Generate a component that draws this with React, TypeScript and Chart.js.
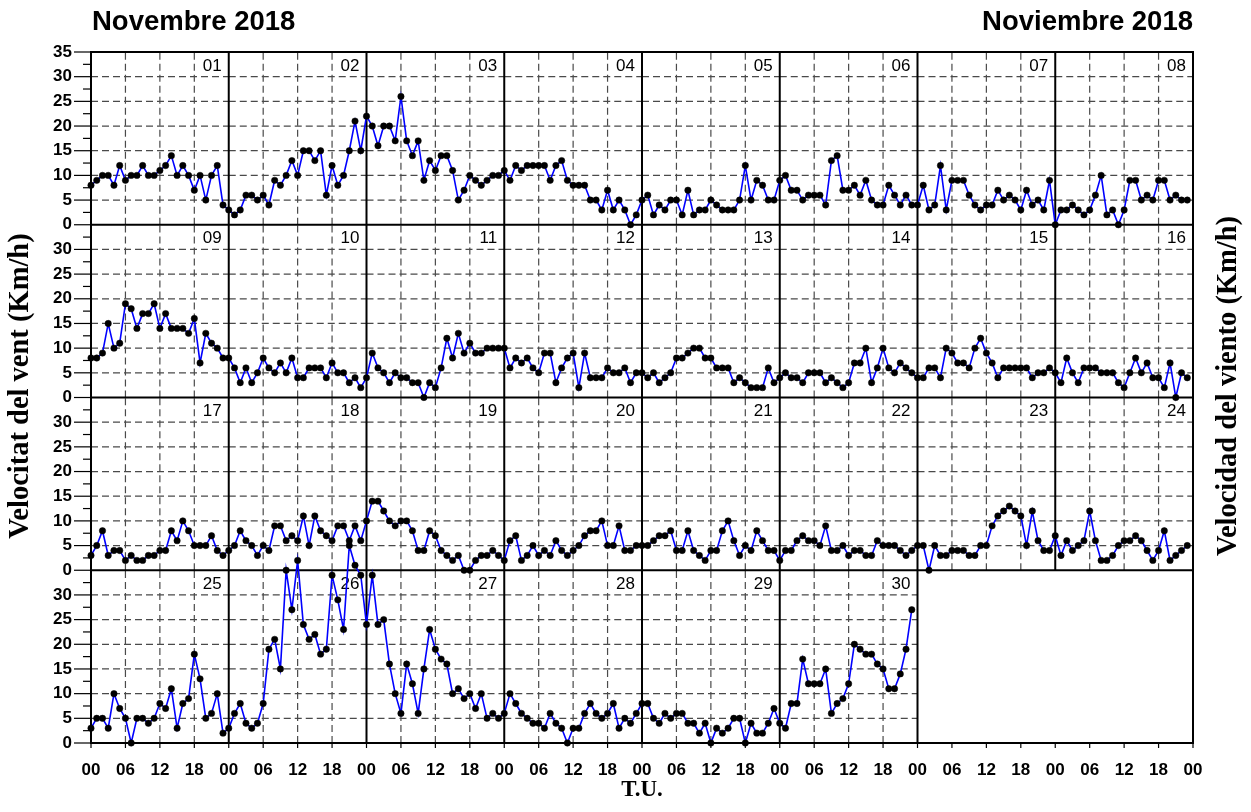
import React, { useEffect, useRef } from 'react';
import { Chart, registerables } from 'chart.js';

Chart.register(...registerables);

// ---- Data: hourly wind speed (km/h), November 2018, 00..23 UT per day ----
const d01 = [8, 9, 10, 10, 8, 12, 9, 10, 10, 12, 10, 10, 11, 12, 14, 10, 12, 10, 7, 10, 5, 10, 12, 4];
const d02 = [3, 2, 3, 6, 6, 5, 6, 4, 9, 8, 10, 13, 10, 15, 15, 13, 15, 6, 12, 8, 10, 15, 21, 15];
const d03 = [22, 20, 16, 20, 20, 17, 26, 17, 14, 17, 9, 13, 11, 14, 14, 11, 5, 7, 10, 9, 8, 9, 10, 10];
const d04 = [11, 9, 12, 11, 12, 12, 12, 12, 9, 12, 13, 9, 8, 8, 8, 5, 5, 3, 7, 3, 5, 3, 0, 2];
const d05 = [5, 6, 2, 4, 3, 5, 5, 2, 7, 2, 3, 3, 5, 4, 3, 3, 3, 5, 12, 5, 9, 8, 5, 5];
const d06 = [9, 10, 7, 7, 5, 6, 6, 6, 4, 13, 14, 7, 7, 8, 6, 9, 5, 4, 4, 8, 6, 4, 6, 4];
const d07 = [4, 8, 3, 4, 12, 3, 9, 9, 9, 6, 4, 3, 4, 4, 7, 5, 6, 5, 3, 7, 4, 5, 3, 9];
const d08 = [0, 3, 3, 4, 3, 2, 3, 6, 10, 2, 3, 0, 3, 9, 9, 5, 6, 5, 9, 9, 5, 6, 5, 5];
const d09 = [8, 8, 9, 15, 10, 11, 19, 18, 14, 17, 17, 19, 14, 17, 14, 14, 14, 13, 16, 7, 13, 11, 10, 8];
const d10 = [8, 6, 3, 6, 3, 5, 8, 6, 5, 7, 5, 8, 4, 4, 6, 6, 6, 4, 7, 5, 5, 3, 4, 2];
const d11 = [4, 9, 6, 5, 3, 5, 4, 4, 3, 3, 0, 3, 2, 6, 12, 8, 13, 9, 11, 9, 9, 10, 10, 10];
const d12 = [10, 6, 8, 7, 8, 6, 5, 9, 9, 3, 6, 8, 9, 2, 9, 4, 4, 4, 6, 5, 5, 6, 3, 5];
const d13 = [5, 4, 5, 3, 4, 5, 8, 8, 9, 10, 10, 8, 8, 6, 6, 6, 3, 4, 3, 2, 2, 2, 6, 3];
const d14 = [4, 5, 4, 4, 3, 5, 5, 5, 3, 4, 3, 2, 3, 7, 7, 10, 3, 6, 10, 6, 5, 7, 6, 5];
const d15 = [4, 4, 6, 6, 4, 10, 9, 7, 7, 6, 10, 12, 9, 7, 4, 6, 6, 6, 6, 6, 4, 5, 5, 6];
const d16 = [5, 3, 8, 5, 3, 6, 6, 6, 5, 5, 5, 3, 2, 5, 8, 5, 7, 4, 4, 2, 7, 0, 5, 4];
const d17 = [3, 5, 8, 3, 4, 4, 2, 3, 2, 2, 3, 3, 4, 4, 8, 6, 10, 8, 5, 5, 5, 7, 4, 3];
const d18 = [4, 5, 8, 6, 5, 3, 5, 4, 9, 9, 6, 7, 6, 11, 5, 11, 8, 7, 6, 9, 9, 6, 9, 6];
const d19 = [10, 14, 14, 12, 10, 9, 10, 10, 8, 4, 4, 8, 7, 4, 3, 2, 3, 0, 0, 2, 3, 3, 4, 3];
const d20 = [2, 6, 7, 2, 3, 5, 3, 4, 3, 6, 4, 3, 4, 5, 7, 8, 8, 10, 5, 5, 9, 4, 4, 5];
const d21 = [5, 5, 6, 7, 7, 8, 4, 4, 8, 4, 3, 2, 4, 4, 8, 10, 6, 3, 5, 4, 8, 6, 4, 4];
const d22 = [2, 4, 4, 6, 7, 6, 6, 5, 9, 4, 4, 5, 3, 4, 4, 3, 3, 6, 5, 5, 5, 4, 3, 4];
const d23 = [5, 5, 0, 5, 3, 3, 4, 4, 4, 3, 3, 5, 5, 9, 11, 12, 13, 12, 11, 5, 12, 6, 4, 4];
const d24 = [7, 3, 6, 4, 5, 6, 12, 6, 2, 2, 3, 5, 6, 6, 7, 6, 4, 2, 4, 8, 2, 3, 4, 5];
const d25 = [3, 5, 5, 3, 10, 7, 5, 0, 5, 5, 4, 5, 8, 7, 11, 3, 8, 9, 18, 13, 5, 6, 10, 2];
const d26 = [3, 6, 8, 4, 3, 4, 8, 19, 21, 15, 35, 27, 37, 24, 21, 22, 18, 19, 34, 29, 23, 40, 36, 34];
const d27 = [24, 34, 24, 25, 16, 10, 6, 16, 12, 6, 15, 23, 19, 17, 16, 10, 11, 9, 10, 7, 10, 5, 6, 5];
const d28 = [6, 10, 8, 6, 5, 4, 4, 3, 6, 4, 3, 0, 3, 3, 6, 8, 6, 5, 6, 8, 3, 5, 4, 6];
const d29 = [8, 8, 5, 4, 6, 5, 6, 6, 4, 4, 2, 4, 0, 3, 2, 3, 5, 5, 0, 4, 2, 2, 4, 7];
const d30 = [4, 3, 8, 8, 17, 12, 12, 12, 15, 6, 8, 9, 12, 20, 19, 18, 18, 16, 15, 11, 11, 14, 19, 27];

const days = [
  d01, d02, d03, d04, d05, d06, d07, d08, d09, d10,
  d11, d12, d13, d14, d15, d16, d17, d18, d19, d20,
  d21, d22, d23, d24, d25, d26, d27, d28, d29, d30,
];
const dayLabels = days.map((_, i) => String(i + 1).padStart(2, '0'));
const hourTickLabels = ['00', '06', '12', '18'];
const yTickValues = [0, 5, 10, 15, 20, 25, 30, 35];

const titleCa = 'Novembre 2018';
const titleEs = 'Noviembre 2018';
const yTitleCa = 'Velocitat del vent (Km/h)';
const yTitleEs = 'Velocidad del viento (Km/h)';
const xTitle = 'T.U.';

// ---- Panel structure ----
const ROWS = 4;
const COLS = 8;
const HOURS = 24;
const SPAN = 35; // km/h range of one row

const rowPoints = Array.from({ length: ROWS }, (_, r) => {
  const pts: { x: number; y: number }[] = [];
  for (let c = 0; c < COLS; c++) {
    const di = r * COLS + c;
    if (di >= days.length) break;
    days[di].forEach((v, h) => pts.push({ x: c * HOURS + h, y: v + (ROWS - 1 - r) * SPAN }));
  }
  return pts;
});

const SANS = "'Liberation Sans', Arial, sans-serif";
const SERIF = "'Liberation Serif', 'Times New Roman', serif";

const panelPlugin = {
  id: 'panelGrid',
  beforeDatasetsDraw(chart: any) {
    const { ctx, scales } = chart;
    const xs = scales.x;
    const ys = scales.y;
    const X = (v: number) => xs.getPixelForValue(v);
    const Y = (v: number) => ys.getPixelForValue(v);
    const line = (x1: number, y1: number, x2: number, y2: number) => {
      ctx.beginPath();
      ctx.moveTo(x1, y1);
      ctx.lineTo(x2, y2);
      ctx.stroke();
    };
    ctx.save();
    // dashed grid inside each day panel
    ctx.strokeStyle = '#4a4a4a';
    ctx.lineWidth = 1.2;
    ctx.setLineDash([7, 4]);
    for (let r = 0; r < ROWS; r++) {
      for (let c = 0; c < COLS; c++) {
        const di = r * COLS + c;
        if (di >= days.length) continue;
        const x0 = c * HOURS;
        const y0 = (ROWS - 1 - r) * SPAN;
        for (let k = 5; k < SPAN; k += 5) line(X(x0), Y(y0 + k), X(x0 + HOURS), Y(y0 + k));
        for (let h = 6; h < HOURS; h += 6) line(X(x0 + h), Y(y0), X(x0 + h), Y(y0 + SPAN));
      }
    }
    ctx.setLineDash([]);
    // solid separators
    ctx.strokeStyle = '#000';
    ctx.lineWidth = 2;
    for (let r = 1; r < ROWS; r++) line(X(0), Y(r * SPAN), X(COLS * HOURS), Y(r * SPAN));
    const lastCol = (days.length - 1) % COLS; // last used column in bottom row
    for (let c = 1; c < COLS; c++) {
      const bottom = c > lastCol + 1 ? SPAN : 0;
      line(X(c * HOURS), Y(bottom), X(c * HOURS), Y(ROWS * SPAN));
    }
    ctx.strokeRect(X(0), Y(ROWS * SPAN), X(COLS * HOURS) - X(0), Y(0) - Y(ROWS * SPAN));
    // y-axis tick marks
    ctx.lineWidth = 1.2;
    for (let v = 0; v <= ROWS * SPAN; v += 2.5) {
      const len = v % 5 === 0 ? 17 : 8;
      line(X(0) - len, Y(v), X(0), Y(v));
    }
    // x-axis tick marks
    for (let v = 0; v <= COLS * HOURS; v += 6) line(X(v), Y(0), X(v), Y(0) + 5);
    // day numbers
    ctx.fillStyle = '#000';
    ctx.font = `17px ${SANS}`;
    ctx.textAlign = 'right';
    ctx.textBaseline = 'middle';
    dayLabels.forEach((lab, di) => {
      const r = Math.floor(di / COLS);
      const c = di % COLS;
      ctx.fillText(lab, X((c + 1) * HOURS) - 7, Y((ROWS - r) * SPAN) + 14);
    });
    ctx.restore();
  },
  afterDraw(chart: any) {
    const { ctx, chartArea } = chart;
    ctx.save();
    ctx.fillStyle = '#000';
    ctx.font = `bold 27.5px ${SANS}`;
    ctx.textBaseline = 'alphabetic';
    ctx.textAlign = 'left';
    ctx.fillText(titleCa, chartArea.left + 1, 30);
    ctx.textAlign = 'right';
    ctx.fillText(titleEs, chartArea.right, 30);
    ctx.font = `bold 28.5px ${SERIF}`;
    ctx.textAlign = 'center';
    ctx.textBaseline = 'middle';
    const cy = 386;
    ctx.save();
    ctx.translate(21, cy);
    ctx.rotate(-Math.PI / 2);
    ctx.fillText(yTitleCa, 0, 0);
    ctx.restore();
    ctx.save();
    ctx.translate(1229, cy);
    ctx.rotate(-Math.PI / 2);
    ctx.fillText(yTitleEs, 0, 0);
    ctx.restore();
    ctx.font = `bold 23px ${SERIF}`;
    ctx.fillText(xTitle, (chartArea.left + chartArea.right) / 2, 790);
    ctx.restore();
  },
};

export default function App() {
  const canvasRef = useRef<HTMLCanvasElement | null>(null);

  useEffect(() => {
    const canvas = canvasRef.current;
    if (!canvas) return;
    const chart = new Chart(canvas, {
      type: 'line',
      data: {
        datasets: rowPoints.map((pts, r) => ({
          label: `row ${r + 1}`,
          data: pts,
          borderColor: '#0000ff',
          borderWidth: 1.6,
          pointRadius: 3.2,
          pointBackgroundColor: '#000',
          pointBorderColor: '#000',
          pointBorderWidth: 0.5,
          tension: 0,
          fill: false,
          clip: false,
        })),
      },
      options: {
        animation: false,
        responsive: false,
        maintainAspectRatio: false,
        events: [],
        layout: { padding: { top: 52, right: 58, left: 0, bottom: 0 } },
        plugins: { legend: { display: false }, tooltip: { enabled: false }, title: { display: false } },
        scales: {
          x: {
            type: 'linear',
            min: 0,
            max: COLS * HOURS,
            afterFit: (s: any) => { s.height = 69; },
            grid: { display: false },
            border: { display: false },
            ticks: {
              stepSize: 6,
              autoSkip: false,
              maxRotation: 0,
              padding: 9,
              color: '#000',
              font: { family: SANS, size: 17, weight: 'bold' },
              callback: (v: any) => hourTickLabels[(Number(v) % HOURS) / 6],
            },
          },
          y: {
            type: 'linear',
            min: 0,
            max: ROWS * SPAN,
            afterFit: (s: any) => { s.width = 91; },
            grid: { display: false },
            border: { display: false },
            ticks: {
              stepSize: 2.5,
              autoSkip: false,
              padding: 11,
              color: '#000',
              font: { family: SANS, size: 17, weight: 'bold' },
              callback: (v: any) => {
                const n = Number(v);
                if (n % 5 !== 0) return '';
                const val = n === ROWS * SPAN ? SPAN : n % SPAN;
                return yTickValues.includes(val) ? String(val) : '';
              },
            },
          },
        },
      },
      plugins: [panelPlugin],
    } as any);
    return () => chart.destroy();
  }, []);

  return (
    <div style={{ position: 'absolute', left: 0, top: 0, width: 1251, height: 812, background: '#fff' }}>
      <canvas ref={canvasRef} width={1251} height={812} style={{ display: 'block' }} />
    </div>
  );
}
